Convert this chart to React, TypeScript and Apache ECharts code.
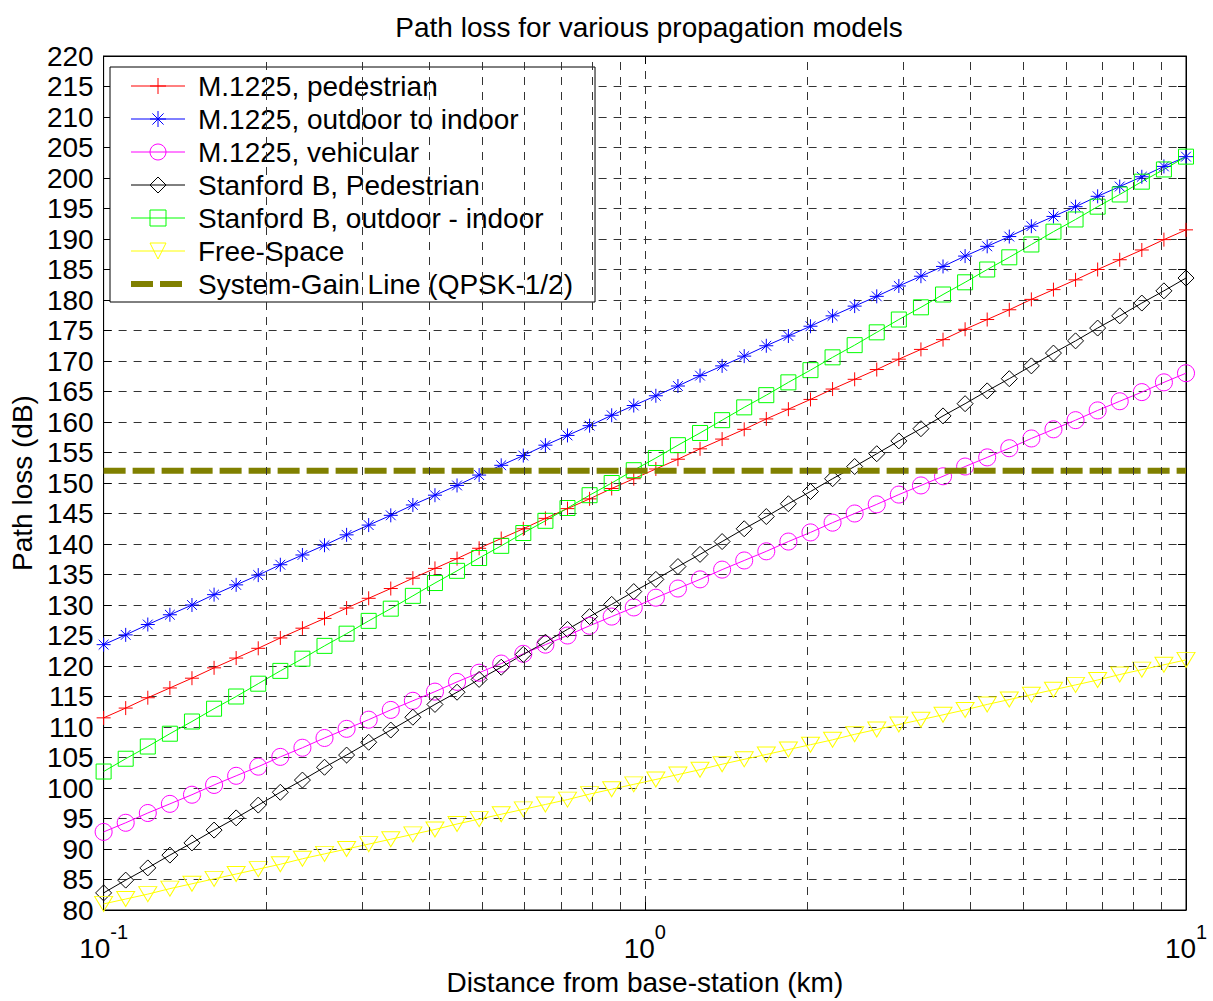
import React, { useEffect, useRef } from "react";
import * as echarts from "echarts";

const distanceKm = [
  0.1, 0.10985, 0.12068, 0.13257, 0.14563, 0.15999, 0.17575, 0.19307, 0.2121, 0.233,
  0.25595, 0.28118, 0.30888, 0.33932, 0.37276, 0.40949, 0.44984, 0.49417, 0.54287, 0.59636,
  0.65513, 0.71969, 0.7906, 0.86851, 0.9541, 1.04811, 1.1514, 1.26486, 1.3895, 1.52642,
  1.67683, 1.84207, 2.02359, 2.223, 2.44205, 2.6827, 2.94705, 3.23746, 3.55648, 3.90694,
  4.29193, 4.71487, 5.17947, 5.68987, 6.25055, 6.86649, 7.54312, 8.28643, 9.10298, 10,
];

const m1225Pedestrian = [
  111.5, 113.1, 114.8, 116.4, 118.0, 119.7, 121.3, 122.9, 124.6, 126.2,
  127.8, 129.5, 131.1, 132.7, 134.4, 136.0, 137.6, 139.3, 140.9, 142.5,
  144.2, 145.8, 147.4, 149.1, 150.7, 152.3, 153.9, 155.6, 157.2, 158.8,
  160.5, 162.1, 163.7, 165.4, 167.0, 168.6, 170.3, 171.9, 173.5, 175.2,
  176.8, 178.4, 180.1, 181.7, 183.3, 185.0, 186.6, 188.2, 189.9, 191.5,
];

const m1225OutdoorIndoor = [
  123.5, 125.1, 126.8, 128.4, 130.0, 131.7, 133.3, 134.9, 136.6, 138.2,
  139.8, 141.5, 143.1, 144.7, 146.4, 148.0, 149.6, 151.3, 152.9, 154.5,
  156.2, 157.8, 159.4, 161.1, 162.7, 164.3, 165.9, 167.6, 169.2, 170.8,
  172.5, 174.1, 175.7, 177.4, 179.0, 180.6, 182.3, 183.9, 185.5, 187.2,
  188.8, 190.4, 192.1, 193.7, 195.3, 197.0, 198.6, 200.2, 201.9, 203.5,
];

const m1225Vehicular = [
  92.8, 94.3, 95.9, 97.4, 98.9, 100.5, 102.0, 103.5, 105.1, 106.6,
  108.2, 109.7, 111.2, 112.8, 114.3, 115.8, 117.4, 118.9, 120.4, 122.0,
  123.5, 125.0, 126.6, 128.1, 129.6, 131.2, 132.7, 134.2, 135.8, 137.3,
  138.8, 140.4, 141.9, 143.5, 145.0, 146.5, 148.1, 149.6, 151.1, 152.7,
  154.2, 155.7, 157.3, 158.8, 160.3, 161.9, 163.4, 164.9, 166.5, 168.0,
];

const stanfordBPedestrian = [
  82.8, 84.9, 86.9, 89.0, 91.0, 93.1, 95.1, 97.2, 99.3, 101.3,
  103.4, 105.4, 107.5, 109.5, 111.6, 113.7, 115.7, 117.8, 119.8, 121.9,
  123.9, 126.0, 128.1, 130.1, 132.2, 134.2, 136.3, 138.3, 140.4, 142.5,
  144.5, 146.6, 148.6, 150.7, 152.7, 154.8, 156.9, 158.9, 161.0, 163.0,
  165.1, 167.1, 169.2, 171.3, 173.3, 175.4, 177.4, 179.5, 181.5, 183.6,
];

const stanfordBOutdoorIndoor = [
  102.7, 104.8, 106.8, 108.9, 110.9, 113.0, 115.0, 117.1, 119.2, 121.2,
  123.3, 125.3, 127.4, 129.4, 131.5, 133.6, 135.6, 137.7, 139.7, 141.8,
  143.8, 145.9, 148.0, 150.0, 152.1, 154.1, 156.2, 158.2, 160.3, 162.4,
  164.4, 166.5, 168.5, 170.6, 172.6, 174.7, 176.8, 178.8, 180.9, 182.9,
  185.0, 187.0, 189.1, 191.2, 193.2, 195.3, 197.3, 199.4, 201.4, 203.5,
];

const freeSpace = [
  81.0, 81.8, 82.6, 83.5, 84.3, 85.1, 85.9, 86.7, 87.5, 88.4,
  89.2, 90.0, 90.8, 91.6, 92.4, 93.2, 94.1, 94.9, 95.7, 96.5,
  97.3, 98.1, 99.0, 99.8, 100.6, 101.4, 102.2, 103.0, 103.9, 104.7,
  105.5, 106.3, 107.1, 107.9, 108.8, 109.6, 110.4, 111.2, 112.0, 112.8,
  113.7, 114.5, 115.3, 116.1, 116.9, 117.7, 118.6, 119.4, 120.2, 121.0,
];

const systemGainX = [0.1, 10];
const systemGainDb = [152, 152];

const xMinorGrid = [0.2, 0.3, 0.4, 0.5, 0.6, 0.7, 0.8, 0.9, 2, 3, 4, 5, 6, 7, 8, 9];

const seriesNames = [
  "M.1225, pedestrian",
  "M.1225, outdoor to indoor",
  "M.1225, vehicular",
  "Stanford B, Pedestrian",
  "Stanford B, outdoor - indoor",
  "Free-Space",
  "System-Gain Line (QPSK-1/2)",
];

const FONT = "'Liberation Sans', Arial, Helvetica, sans-serif";
const GRID_COLOR = "#333";
const plusPath = "path://M0,5L10,5M5,0L5,10";
const starPath = "path://M5,0L5,10M0,5L10,5M1.5,1.5L8.5,8.5M1.5,8.5L8.5,1.5";

function dataLine(name: string, values: number[], color: string, symbol: string, size: any, rotate = 0) {
  return {
    type: "line",
    name,
    data: distanceKm.map((d, i) => [d, values[i]]),
    symbol,
    symbolSize: size,
    symbolRotate: rotate,
    showSymbol: true,
    clip: false,
    z: 3,
    lineStyle: { color, width: 1 },
    itemStyle: { color: "rgba(0,0,0,0)", borderColor: color, borderWidth: 1 },
    emphasis: { disabled: true },
  };
}

export default function App() {
  const ref = useRef<HTMLDivElement>(null);
  useEffect(() => {
    if (!ref.current) return;
    const chart = echarts.init(ref.current, null, { renderer: "svg" });
    const option: any = {
      animation: false,
      backgroundColor: "#fff",
      title: {
        text: "Path loss for various propagation models",
        left: 644,
        top: 8,
        textAlign: "center",
        textStyle: { fontSize: 28, fontWeight: "normal", color: "#000", fontFamily: FONT },
      },
      grid: {
        left: 103,
        right: 27,
        top: 56,
        bottom: 90,
        show: true,
        borderColor: "#000",
        borderWidth: 1,
        containLabel: false,
      },
      legend: {
        orient: "vertical",
        left: 110,
        top: 67,
        padding: [5, 22, 4, 18],
        itemGap: 5,
        itemWidth: 54,
        itemHeight: 20,
        backgroundColor: "#fff",
        borderColor: "#000",
        borderWidth: 1,
        borderRadius: 0,
        selectedMode: false,
        textStyle: { fontSize: 28, color: "#000", fontFamily: FONT, padding: [0, 0, 0, 8] },
        itemStyle: { borderWidth: 1 },
        lineStyle: { width: 1 },
        data: seriesNames.map((n, i) =>
          i === 6
            ? {
                name: n,
                lineStyle: { width: 6, type: [22, 7] },
                itemStyle: { color: "rgba(0,0,0,0)", borderColor: "rgba(0,0,0,0)", borderWidth: 0, opacity: 0 },
              }
            : { name: n }
        ),
      },
      xAxis: [
        {
          type: "log",
          logBase: 10,
          min: 0.1,
          max: 10,
          position: "bottom",
          name: "Distance from base-station (km)",
          nameLocation: "middle",
          nameGap: 58,
          nameTextStyle: { fontSize: 28, color: "#000", fontFamily: FONT },
          axisLine: { show: true, lineStyle: { color: "#000", width: 1 } },
          axisTick: { show: true, inside: true, length: 8, lineStyle: { color: "#000" } },
          axisLabel: {
            show: true,
            margin: 12,
            showMinLabel: true,
            showMaxLabel: true,
            formatter: (v: number) => `{b|10}{s|${Math.round(Math.log10(v))}}`,
            rich: {
              b: { fontSize: 28, color: "#000", fontFamily: FONT, verticalAlign: "bottom", lineHeight: 40 },
              s: { fontSize: 20, color: "#000", fontFamily: FONT, verticalAlign: "top", lineHeight: 40 },
            },
          },
          splitLine: { show: true, lineStyle: { color: GRID_COLOR, type: [8, 7], width: 1 } },
        },
        {
          type: "log",
          logBase: 10,
          min: 0.1,
          max: 10,
          position: "top",
          axisLine: { show: true, lineStyle: { color: "#000", width: 1 } },
          axisTick: { show: true, inside: true, length: 8, lineStyle: { color: "#000" } },
          axisLabel: { show: false },
          splitLine: { show: false },
        },
      ],
      yAxis: [
        {
          type: "value",
          min: 80,
          max: 220,
          interval: 5,
          position: "left",
          name: "Path loss (dB)",
          nameLocation: "middle",
          nameGap: 60,
          nameTextStyle: { fontSize: 28, color: "#000", fontFamily: FONT },
          axisLine: { show: true, lineStyle: { color: "#000", width: 1 } },
          axisTick: { show: true, inside: true, length: 8, lineStyle: { color: "#000" } },
          axisLabel: { fontSize: 28, color: "#000", fontFamily: FONT, margin: 10 },
          splitLine: { show: true, lineStyle: { color: GRID_COLOR, type: [8, 7], width: 1 } },
        },
        {
          type: "value",
          min: 80,
          max: 220,
          interval: 5,
          position: "right",
          axisLine: { show: true, lineStyle: { color: "#000", width: 1 } },
          axisTick: { show: true, inside: true, length: 8, lineStyle: { color: "#000" } },
          axisLabel: { show: false },
          splitLine: { show: false },
        },
      ],
      series: [
        {
          type: "line",
          name: "_minorGrid",
          data: [],
          z: 1,
          silent: true,
          markLine: {
            silent: true,
            symbol: ["none", "none"],
            label: { show: false },
            lineStyle: { color: GRID_COLOR, type: [8, 7], width: 1 },
            emphasis: { disabled: true },
            data: xMinorGrid.map((v) => ({ xAxis: v })),
          },
        },
        dataLine(seriesNames[0], m1225Pedestrian, "#ff0000", plusPath, 14),
        dataLine(seriesNames[1], m1225OutdoorIndoor, "#0000ff", starPath, 14),
        dataLine(seriesNames[2], m1225Vehicular, "#ff00ff", "circle", 17),
        dataLine(seriesNames[3], stanfordBPedestrian, "#000000", "diamond", 16),
        dataLine(seriesNames[4], stanfordBOutdoorIndoor, "#00ff00", "rect", 15),
        dataLine(seriesNames[5], freeSpace, "#ffff00", "triangle", [18, 15], 180),
        {
          type: "line",
          name: seriesNames[6],
          data: systemGainX.map((x, i) => [x, systemGainDb[i]]),
          symbol: "none",
          z: 4,
          clip: false,
          lineStyle: { color: "#808000", width: 6, type: [22, 7] },
          itemStyle: { color: "#808000" },
          emphasis: { disabled: true },
        },
      ],
    };
    chart.setOption(option);
    return () => chart.dispose();
  }, []);
  return (
    <div
      ref={ref}
      style={{ position: "fixed", left: 0, top: 0, width: 1213, height: 1001, background: "#fff" }}
    />
  );
}
